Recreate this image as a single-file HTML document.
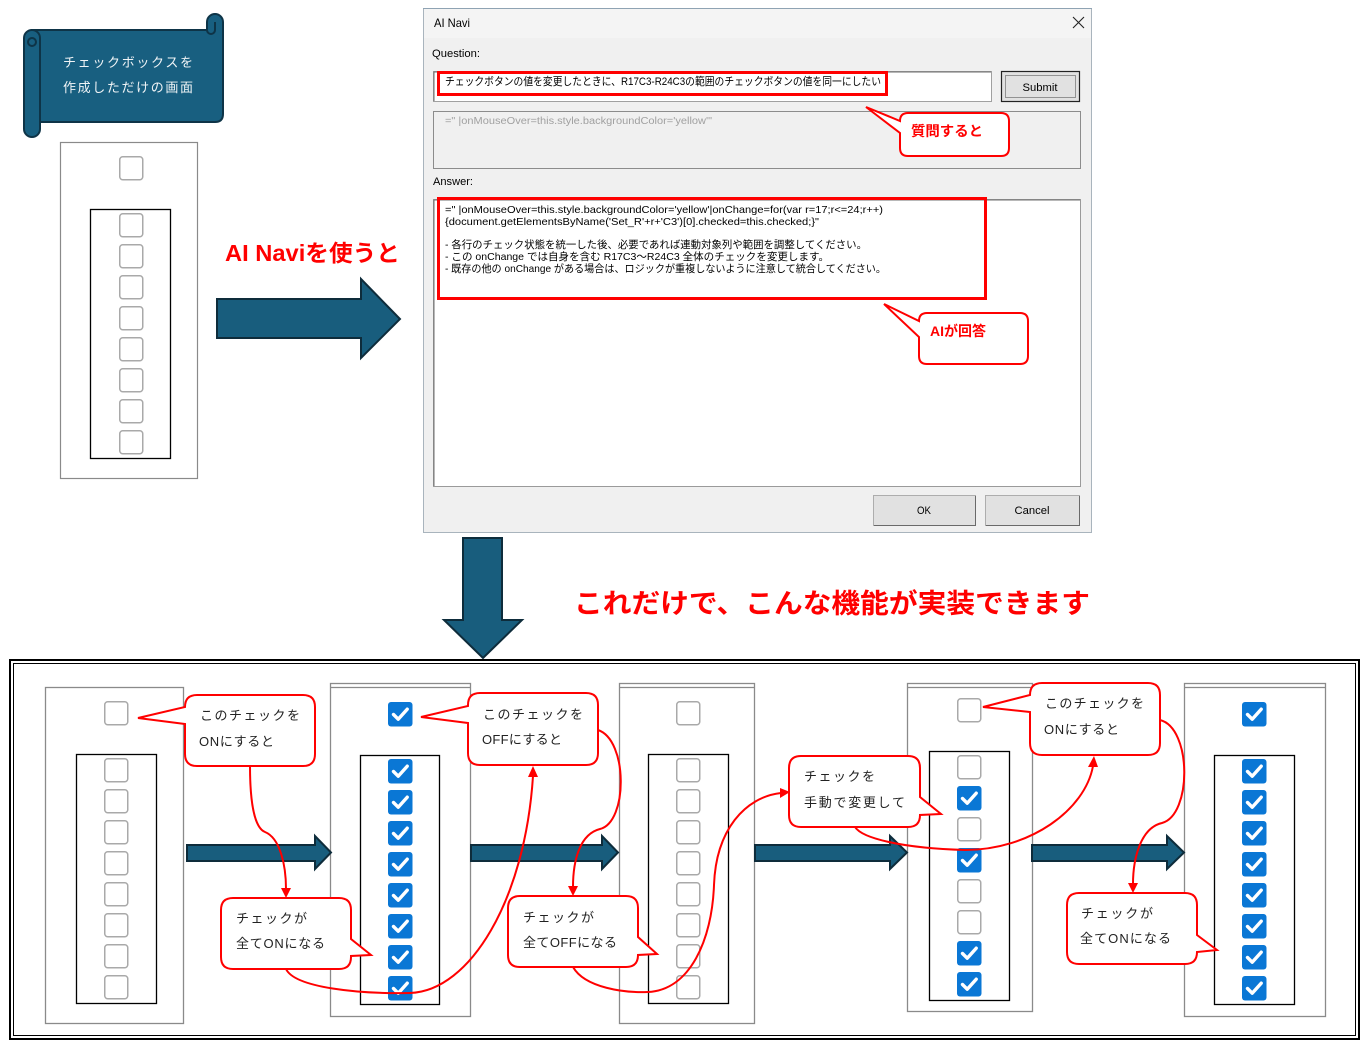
<!DOCTYPE html>
<html><head><meta charset="utf-8"><style>
html,body{margin:0;padding:0;background:#fff;}
svg{display:block;}
text{font-family:"Liberation Sans","Noto Sans CJK JP",sans-serif;}
</style></head><body>
<svg width="1370" height="1049" viewBox="0 0 1370 1049" xmlns="http://www.w3.org/2000/svg">
<defs>
<g id="cu"><rect x="0.75" y="0.75" width="23" height="23" rx="3" fill="#fff" stroke="#a9a9a9" stroke-width="1.5"/></g>
<g id="cc"><rect x="0" y="0" width="24.5" height="24.5" rx="3" fill="#0a77d5"/><path d="M5.5,12.5 L10.2,17.2 L19.2,7.2" fill="none" stroke="#fff" stroke-width="3.4" stroke-linecap="round" stroke-linejoin="round"/></g>
</defs>

<!-- Banner scroll -->
<g fill="#185f80" stroke="#0e3447" stroke-width="2">
<path d="M32,30 H207 V22 A8,8 0 0 1 223,22 V114 Q223,122 215,122 H32 Z"/>
<path d="M24,38 A8,8 0 0 1 40,38 V129 A8,8 0 0 1 24,129 Z"/>
<path d="M207,30 A4,4 0 0 0 215,30 V22" fill="none"/>
<path d="M32,38 A4,4 0 0 1 32,46 A4,4 0 0 1 32,38" fill="none"/>
</g>
<text x="128" y="67" font-size="13" fill="#f0f4f6" text-anchor="middle" textLength="130" lengthAdjust="spacing">チェックボックスを</text>
<text x="128" y="92" font-size="13" fill="#f0f4f6" text-anchor="middle" textLength="130" lengthAdjust="spacing">作成しただけの画面</text>

<!-- Top-left panel -->
<rect x="60.5" y="142.5" width="137" height="336" fill="#fff" stroke="#8a8a8a" stroke-width="1.2"/>
<rect x="90.5" y="209.5" width="80" height="249" fill="#fff" stroke="#000" stroke-width="1.3"/>
<use href="#cu" x="119" y="156"/>
<use href="#cu" x="119" y="213"/><use href="#cu" x="119" y="244"/><use href="#cu" x="119" y="275"/><use href="#cu" x="119" y="306"/>
<use href="#cu" x="119" y="337"/><use href="#cu" x="119" y="368"/><use href="#cu" x="119" y="399"/><use href="#cu" x="119" y="430"/>

<text x="225" y="261" font-size="23" font-weight="bold" fill="#ff0000" textLength="175" lengthAdjust="spacingAndGlyphs">AI Naviを使うと</text>
<polygon points="217,299 361,299 361,279 400,319 361,358 361,338 217,338" fill="#185d7d" stroke="#0e2c3b" stroke-width="2"/>

<!-- Dialog -->
<rect x="423.5" y="8.5" width="668" height="524" fill="#f0f0f0" stroke="#a9b4bd" stroke-width="1"/>
<rect x="424" y="9" width="667" height="29" fill="#f4f4f4"/>
<line x1="423" y1="8.5" x2="1092" y2="8.5" stroke="#8fa3b3" stroke-width="1"/>
<text x="434" y="27" font-size="12" fill="#000" textLength="36" lengthAdjust="spacingAndGlyphs">AI Navi</text>
<path d="M1073,17 L1084,28 M1084,17 L1073,28" stroke="#222" stroke-width="1.1"/>
<text x="432" y="57" font-size="11" fill="#000" textLength="48" lengthAdjust="spacingAndGlyphs">Question:</text>
<rect x="433.5" y="71.5" width="558" height="30" fill="#fff" stroke="#a0a0a0" stroke-width="1"/>
<path d="M434,101 V72 H991" fill="none" stroke="#6e6e6e" stroke-width="1"/>
<text x="445" y="85" font-size="11" fill="#000" textLength="436" lengthAdjust="spacingAndGlyphs">チェックボタンの値を変更したときに、R17C3-R24C3の範囲のチェックボタンの値を同一にしたい</text>
<rect x="438.5" y="72.5" width="448" height="22" fill="none" stroke="#ff0000" stroke-width="3"/>
<rect x="1001.5" y="71.5" width="78" height="30" fill="#e1e1e1" stroke="#222" stroke-width="1.2"/>
<rect x="1005.5" y="75.5" width="70" height="22" fill="none" stroke="#444" stroke-width="1" stroke-dasharray="1,1"/>
<text x="1040" y="91" font-size="11" fill="#000" text-anchor="middle" textLength="35" lengthAdjust="spacingAndGlyphs">Submit</text>
<rect x="433.5" y="111.5" width="647" height="57" fill="#f0f0f0" stroke="#8c8c8c" stroke-width="1"/>
<text x="445" y="124" font-size="10" fill="#a0a0a0" textLength="267" lengthAdjust="spacingAndGlyphs">=" |onMouseOver=this.style.backgroundColor='yellow'"</text>
<text x="433" y="185" font-size="11" fill="#000" textLength="40" lengthAdjust="spacingAndGlyphs">Answer:</text>
<rect x="433.5" y="199.5" width="647" height="287" fill="#fff" stroke="#9a9a9a" stroke-width="1"/>
<path d="M434,486 V200 H1080" fill="none" stroke="#707070" stroke-width="1"/>
<g font-size="10.5" fill="#000">
<text x="445" y="213" textLength="438" lengthAdjust="spacingAndGlyphs">=" |onMouseOver=this.style.backgroundColor='yellow'|onChange=for(var r=17;r&lt;=24;r++)</text>
<text x="445" y="225" textLength="374" lengthAdjust="spacingAndGlyphs">{document.getElementsByName('Set_R'+r+'C3')[0].checked=this.checked;}"</text>
<text x="445" y="248" textLength="422" lengthAdjust="spacingAndGlyphs">- 各行のチェック状態を統一した後、必要であれば連動対象列や範囲を調整してください。</text>
<text x="445" y="260" textLength="384" lengthAdjust="spacingAndGlyphs">- この onChange では自身を含む R17C3～R24C3 全体のチェックを変更します。</text>
<text x="445" y="272" textLength="441" lengthAdjust="spacingAndGlyphs">- 既存の他の onChange がある場合は、ロジックが重複しないように注意して統合してください。</text>
</g>
<rect x="438.5" y="198.5" width="547" height="100" fill="none" stroke="#ff0000" stroke-width="3"/>
<rect x="873.5" y="495.5" width="102" height="30" fill="#e1e1e1" stroke="#adadad" stroke-width="1"/>
<path d="M874,525.5 H975.5 V496" fill="none" stroke="#6a6a6a" stroke-width="1"/>
<text x="924" y="514" font-size="11" fill="#000" text-anchor="middle" textLength="14" lengthAdjust="spacingAndGlyphs">OK</text>
<rect x="985.5" y="495.5" width="94" height="30" fill="#e1e1e1" stroke="#adadad" stroke-width="1"/>
<path d="M986,525.5 H1079.5 V496" fill="none" stroke="#6a6a6a" stroke-width="1"/>
<text x="1032" y="514" font-size="11" fill="#000" text-anchor="middle" textLength="35" lengthAdjust="spacingAndGlyphs">Cancel</text>

<!-- dialog callouts -->
<path d="M908,113 H1001 Q1009,113 1009,121 V148 Q1009,156 1001,156 H908 Q900,156 900,148 V133 L866,107 L900,121 Q900,113 908,113 Z" fill="#fff" stroke="#ff0000" stroke-width="2"/>
<text x="911" y="136" font-size="14" font-weight="bold" fill="#ff0000" textLength="72" lengthAdjust="spacingAndGlyphs">質問すると</text>
<path d="M927,313 H1020 Q1028,313 1028,321 V356 Q1028,364 1020,364 H927 Q919,364 919,356 V337 L884,304 L919,321 Q919,313 927,313 Z" fill="#fff" stroke="#ff0000" stroke-width="2"/>
<text x="930" y="336" font-size="14" font-weight="bold" fill="#ff0000" textLength="56" lengthAdjust="spacingAndGlyphs">AIが回答</text>

<!-- down arrow + heading -->
<polygon points="463,538 502,538 502,620 522,620 483,658 444,620 463,620" fill="#185d7d" stroke="#0e2c3b" stroke-width="2"/>
<text x="574" y="613" font-size="27" font-weight="bold" fill="#ff0000" textLength="516" lengthAdjust="spacingAndGlyphs">これだけで、こんな機能が実装できます</text>

<!-- Frame -->
<rect x="10" y="660" width="1349" height="379" fill="none" stroke="#000" stroke-width="2"/>
<rect x="13.5" y="663.5" width="1342" height="372" fill="none" stroke="#000" stroke-width="1"/>

<!-- Panels -->
<g fill="#fff" stroke="#8a8a8a" stroke-width="1.3">
<rect x="45.5" y="687.5" width="138" height="336"/>
<rect x="330.5" y="683.5" width="140" height="333"/>
<rect x="619.5" y="683.5" width="135" height="340"/>
<rect x="907.5" y="683.5" width="125" height="328"/>
<rect x="1184.5" y="683.5" width="141" height="333"/>
</g>
<g stroke="#8a8a8a" stroke-width="1.3">
<line x1="330" y1="687.5" x2="471" y2="687.5"/>
<line x1="619" y1="687.5" x2="755" y2="687.5"/>
<line x1="907" y1="687.5" x2="1033" y2="687.5"/>
<line x1="1184" y1="687.5" x2="1326" y2="687.5"/>
</g>
<g fill="#fff" stroke="#000" stroke-width="1.3">
<rect x="76.5" y="754.5" width="80" height="249"/>
<rect x="360.5" y="755.5" width="79" height="249"/>
<rect x="648.5" y="754.5" width="80" height="249"/>
<rect x="929.5" y="751.5" width="80" height="249"/>
<rect x="1214.5" y="755.5" width="80" height="249"/>
</g>
<!-- P1 -->
<use href="#cu" x="104" y="701"/>
<use href="#cu" x="104" y="758"/><use href="#cu" x="104" y="789"/><use href="#cu" x="104" y="820"/><use href="#cu" x="104" y="851"/>
<use href="#cu" x="104" y="882"/><use href="#cu" x="104" y="913"/><use href="#cu" x="104" y="944"/><use href="#cu" x="104" y="975"/>
<!-- P2 -->
<use href="#cc" x="388" y="702"/>
<use href="#cc" x="388" y="759"/><use href="#cc" x="388" y="790"/><use href="#cc" x="388" y="821"/><use href="#cc" x="388" y="852"/>
<use href="#cc" x="388" y="883"/><use href="#cc" x="388" y="914"/><use href="#cc" x="388" y="945"/><use href="#cc" x="388" y="976"/>
<!-- P3 -->
<use href="#cu" x="676" y="701"/>
<use href="#cu" x="676" y="758"/><use href="#cu" x="676" y="789"/><use href="#cu" x="676" y="820"/><use href="#cu" x="676" y="851"/>
<use href="#cu" x="676" y="882"/><use href="#cu" x="676" y="913"/><use href="#cu" x="676" y="944"/><use href="#cu" x="676" y="975"/>
<!-- P4 -->
<use href="#cu" x="957" y="698"/>
<use href="#cu" x="957" y="755"/><use href="#cc" x="957" y="786"/><use href="#cu" x="957" y="817"/><use href="#cc" x="957" y="848"/>
<use href="#cu" x="957" y="879"/><use href="#cu" x="957" y="910"/><use href="#cc" x="957" y="941"/><use href="#cc" x="957" y="972"/>
<!-- P5 -->
<use href="#cc" x="1242" y="702"/>
<use href="#cc" x="1242" y="759"/><use href="#cc" x="1242" y="790"/><use href="#cc" x="1242" y="821"/><use href="#cc" x="1242" y="852"/>
<use href="#cc" x="1242" y="883"/><use href="#cc" x="1242" y="914"/><use href="#cc" x="1242" y="945"/><use href="#cc" x="1242" y="976"/>

<!-- Blue arrows -->
<g fill="#185d7d" stroke="#0e2c3b" stroke-width="2">
<polygon points="187,845 315,845 315,836 331,852.5 315,869 315,861 187,861"/>
<polygon points="471,845 602,845 602,836 618,852.5 602,869 602,861 471,861"/>
<polygon points="755,845 890,845 890,836 907,852.5 890,869 890,861 755,861"/>
<polygon points="1032,845 1167,845 1167,836 1184,852.5 1167,869 1167,861 1032,861"/>
</g>

<!-- Callouts -->
<g fill="#fff" stroke="#ff0000" stroke-width="2">
<path d="M197,695 H303 Q315,695 315,707 V754 Q315,766 303,766 H197 Q185,766 185,754 V724 L138,718 L185,707 Q185,695 197,695 Z"/>
<path d="M233,898 H339 Q351,898 351,910 V939 L371,955 L351,956 V957 Q351,969 339,969 H233 Q221,969 221,957 V910 Q221,898 233,898 Z"/>
<path d="M480,693 H586 Q598,693 598,705 V753 Q598,765 586,765 H480 Q468,765 468,753 V723 L421,717 L468,706 V705 Q468,693 480,693 Z"/>
<path d="M520,896 H626 Q638,896 638,908 V937 L657,954 L638,955 Q638,967 626,967 H520 Q508,967 508,955 V908 Q508,896 520,896 Z"/>
<path d="M801,756 H908 Q920,756 920,768 V797 L941,814 L920,815 Q920,827 908,827 H801 Q789,827 789,815 V768 Q789,756 801,756 Z"/>
<path d="M1042,683 H1148 Q1160,683 1160,695 V743 Q1160,755 1148,755 H1042 Q1030,755 1030,743 V712 L983,707 L1030,695 Q1030,683 1042,683 Z"/>
<path d="M1079,893 H1185 Q1197,893 1197,905 V935 L1217,950 L1197,952 Q1197,964 1185,964 H1079 Q1067,964 1067,952 V905 Q1067,893 1079,893 Z"/>
</g>
<g font-size="13" fill="#222">
<text x="200" y="720" textLength="100" lengthAdjust="spacing">このチェックを</text>
<text x="199" y="746" textLength="75" lengthAdjust="spacing">ONにすると</text>
<text x="236" y="923" textLength="71" lengthAdjust="spacing">チェックが</text>
<text x="236" y="948" textLength="89" lengthAdjust="spacing">全てONになる</text>
<text x="483" y="719" textLength="100" lengthAdjust="spacing">このチェックを</text>
<text x="482" y="744" textLength="80" lengthAdjust="spacing">OFFにすると</text>
<text x="523" y="922" textLength="71" lengthAdjust="spacing">チェックが</text>
<text x="523" y="947" textLength="94" lengthAdjust="spacing">全てOFFになる</text>
<text x="804" y="781" textLength="71" lengthAdjust="spacing">チェックを</text>
<text x="804" y="807" textLength="101" lengthAdjust="spacing">手動で変更して</text>
<text x="1045" y="708" textLength="99" lengthAdjust="spacing">このチェックを</text>
<text x="1044" y="734" textLength="75" lengthAdjust="spacing">ONにすると</text>
<text x="1081" y="918" textLength="72" lengthAdjust="spacing">チェックが</text>
<text x="1080" y="943" textLength="91" lengthAdjust="spacing">全てONになる</text>
</g>

<!-- Connectors -->
<g fill="none" stroke="#ff0000" stroke-width="2">
<path d="M250,766 C250,805 255,828 265,832 C280,838 286,865 286,889"/>
<path d="M286,969 C295,988 360,994 410,993 C470,991 525,900 533,776"/>
<path d="M598,730 C628,740 628,822 600,829 C580,834 573,860 573,887"/>
<path d="M573,967 C585,988 625,993 648,992 C690,990 712,940 714,885 C716,830 745,797 781,793"/>
<path d="M855,827 C862,838 900,848 965,850 C1030,850 1085,810 1093,766"/>
<path d="M1160,720 C1192,728 1192,815 1162,823 C1140,828 1133,860 1133,884"/>
</g>
<g fill="#ff0000">
<polygon points="281,888 291,888 286,898"/>
<polygon points="528,777 538,777 533,766"/>
<polygon points="568,886 578,886 573,896"/>
<polygon points="780,788 780,798 790,792"/>
<polygon points="1088,767 1098,767 1094,756"/>
<polygon points="1128,883 1138,883 1133,893"/>
</g>
</svg>
</body></html>
